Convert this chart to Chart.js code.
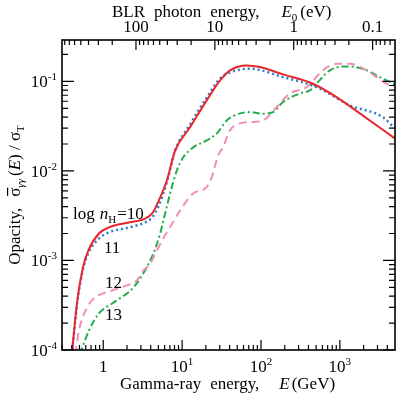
<!DOCTYPE html>
<html>
<head>
<meta charset="utf-8">
<script src="https://cdn.jsdelivr.net/npm/chart.js@4.4.1/dist/chart.umd.min.js"></script>
<style>
    html, body { margin: 0; padding: 0; background: #fff; }
    #wrap { width: 398px; height: 398px; }
</style>
</head>
<body>
<div id="wrap"><canvas id="chart" width="398" height="398"></canvas></div>
<script>
// gamma-ray energy E (GeV) and opacity sigma/sigma_T, one pair per log n_H
var energy10  = [0.40, 0.469, 0.553, 0.646, 0.882, 1.18, 2.12, 3.40, 4.17, 5.07, 6.40, 8.15, 12.6, 20.5, 30.3, 40.5, 65.9, 97.1, 190, 455, 908, 1791, 4968];
var opacity10 = [9e-5, 3.57e-4, 8.36e-4, 1.29e-3, 2.0e-3, 2.34e-3, 2.66e-3, 2.94e-3, 3.35e-3, 4.68e-3, 7.83e-3, 0.0169, 0.0308, 0.0614, 0.1026, 0.133, 0.151, 0.1445, 0.1197, 0.0942, 0.0668, 0.0439, 0.0231];

var energy11  = [0.40, 0.469, 0.553, 0.646, 0.882, 1.18, 2.12, 3.40, 4.17, 5.07, 6.40, 8.15, 12.6, 20.5, 30.3, 40.5, 72.6, 190, 507, 1339, 3500, 4968];
var opacity11 = [9e-5, 3.40e-4, 7.92e-4, 1.20e-3, 1.76e-3, 2.06e-3, 2.34e-3, 2.66e-3, 3.02e-3, 4.12e-3, 7.45e-3, 0.0169, 0.0331, 0.0662, 0.108, 0.126, 0.1387, 0.1117, 0.0863, 0.054, 0.0399, 0.0299];

var energy12  = [0.445, 0.492, 0.627, 0.799, 1.30, 2.0, 2.67, 3.24, 3.94, 4.78, 5.75, 7.05, 9.43, 13.8, 20.5, 23.8, 28.6, 33.0, 40.5, 54.2, 72.6, 106, 158, 233, 379, 609, 908, 1339, 2178, 2915, 3900, 4968];
var opacity12 = [9e-5, 1.65e-4, 3.01e-4, 3.89e-4, 4.62e-4, 5.26e-4, 5.98e-4, 7.73e-4, 9.25e-4, 1.29e-3, 1.76e-3, 2.36e-3, 3.62e-3, 5.61e-3, 6.59e-3, 8.53e-3, 0.0149, 0.0184, 0.0284, 0.034, 0.0351, 0.0366, 0.0517, 0.0734, 0.0863, 0.133, 0.157, 0.157, 0.133, 0.1117, 0.095, 0.0902];

var energy13  = [0.505, 0.659, 0.882, 1.30, 1.84, 2.42, 3.57, 4.33, 5.27, 5.80, 7.05, 8.57, 10.4, 13.9, 20.5, 27.5, 36.8, 54.2, 72.6, 106, 142, 190, 312, 417, 507, 747, 1216, 1955, 3208, 4968];
var opacity13 = [9e-5, 1.65e-4, 2.56e-4, 3.31e-4, 4.06e-4, 4.99e-4, 8.41e-4, 1.20e-3, 2.0e-3, 2.80e-3, 5.61e-3, 0.0101, 0.0143, 0.0184, 0.0219, 0.0262, 0.0366, 0.0439, 0.0454, 0.0436, 0.0454, 0.0588, 0.0734, 0.0793, 0.095, 0.133, 0.147, 0.1387, 0.1117, 0.0926];

// axis ranges and labelled ticks
var energyMin = 0.3, energyMax = 5000;
var opacityMin = 1e-4, opacityMax = 0.29;
var bottomTicks = [1, 10, 100, 1000];
var bottomExponents = ['', '1', '2', '3'];
var leftTicks = [1e-4, 1e-3, 1e-2, 1e-1];
var leftExponents = ['-4', '-3', '-2', '-1'];
var topTicks = [100, 10, 1, 0.1];
var topLabels = ['100', '10', '1', '0.1'];
// E * E0 at pair-production threshold, GeV * eV
var thresholdProduct = 260;

var serif = '"Liberation Serif", "DejaVu Serif", serif';

function points(xs, ys)
{
    return xs.map(function(x, i) { return {x: x, y: ys[i]}; });
}

function drawPieces(ctx, pieces, x, y)
{
    pieces.forEach(function(p)
    {
        ctx.font = p.font;
        ctx.fillText(p.text, x, y + (p.dy || 0));
        var w = ctx.measureText(p.text).width;
        if(p.bar)
        {
            ctx.fillRect(x + 1, y - 13, w - 1, 1.2);
        }
        x += w + (p.gap || 0);
    });
}

function piecesWidth(ctx, pieces)
{
    var w = 0;
    pieces.forEach(function(p)
    {
        ctx.font = p.font;
        w += ctx.measureText(p.text).width + (p.gap || 0);
    });
    return w;
}

var framePlugin = {
    id: 'frame',
    afterDraw: function(chart)
    {
        var ctx = chart.ctx;
        var a = chart.chartArea;
        var xs = chart.scales.x;
        var ys = chart.scales.y;

        ctx.save();
        ctx.strokeStyle = '#000';
        ctx.fillStyle = '#000';
        ctx.lineWidth = 1.6;
        ctx.strokeRect(a.left, a.top, a.right - a.left, a.bottom - a.top);

        ctx.lineWidth = 1.2;
        ctx.beginPath();
        var d, m, v, p, len;
        // bottom, gamma-ray energy
        for(d = -1; d <= 3; ++d)
        {
            for(m = 1; m <= 9; ++m)
            {
                v = m * Math.pow(10, d);
                if(v <= energyMin || v >= energyMax) continue;
                p = xs.getPixelForValue(v);
                len = m == 1 ? 10 : 5;
                ctx.moveTo(p, a.bottom);
                ctx.lineTo(p, a.bottom - len);
            }
        }
        // top, BLR photon energy
        for(d = -2; d <= 2; ++d)
        {
            for(m = 1; m <= 9; ++m)
            {
                v = thresholdProduct / (m * Math.pow(10, d));
                if(v <= energyMin || v >= energyMax) continue;
                p = xs.getPixelForValue(v);
                len = m == 1 ? 10 : 5;
                ctx.moveTo(p, a.top);
                ctx.lineTo(p, a.top + len);
            }
        }
        // left and right, opacity
        for(d = -4; d <= -1; ++d)
        {
            for(m = 1; m <= 9; ++m)
            {
                v = m * Math.pow(10, d);
                if(v < opacityMin || v >= opacityMax) continue;
                p = ys.getPixelForValue(v);
                len = m == 1 ? 12 : 6;
                ctx.moveTo(a.left, p);
                ctx.lineTo(a.left + len, p);
                ctx.moveTo(a.right, p);
                ctx.lineTo(a.right - len, p);
            }
        }
        ctx.stroke();

        var big = '17px ' + serif;
        var small = '11px ' + serif;
        var italic = 'italic 17px ' + serif;
        ctx.textBaseline = 'alphabetic';
        ctx.textAlign = 'left';

        // left tick labels
        leftTicks.forEach(function(v, i)
        {
            var py = ys.getPixelForValue(v);
            var pieces = [{text: '10', font: big}, {text: leftExponents[i], font: small, dy: -7}];
            drawPieces(ctx, pieces, a.left - 5 - piecesWidth(ctx, pieces), py + 6);
        });

        // bottom tick labels
        bottomTicks.forEach(function(v, i)
        {
            var px = xs.getPixelForValue(v);
            var pieces = [{text: v == 1 ? '1' : '10', font: big}];
            if(bottomExponents[i]) pieces.push({text: bottomExponents[i], font: small, dy: -7});
            drawPieces(ctx, pieces, px - piecesWidth(ctx, pieces) / 2, a.bottom + 22);
        });

        // top tick labels
        ctx.textAlign = 'center';
        ctx.font = big;
        topTicks.forEach(function(v, i)
        {
            ctx.fillText(topLabels[i], xs.getPixelForValue(thresholdProduct / v), a.top - 8);
        });
        ctx.textAlign = 'left';

        // axis titles
        drawPieces(ctx, [
            {text: 'BLR', font: big, gap: 9},
            {text: 'photon', font: big, gap: 9},
            {text: 'energy,', font: big, gap: 22},
            {text: 'E', font: italic},
            {text: '0', font: small, dy: 4, gap: 3},
            {text: '(eV)', font: big}
        ], 112, 17);

        drawPieces(ctx, [
            {text: 'Gamma-ray', font: big, gap: 9},
            {text: 'energy,', font: big, gap: 20},
            {text: 'E', font: italic, gap: 2},
            {text: '(GeV)', font: big}
        ], 120, 389);

        var ytitle = [
            {text: 'Opacity,', font: big, gap: 11},
            {text: '\u03c3', font: big, bar: true},
            {text: '\u03b3\u03b3', font: 'italic 11px ' + serif, dy: 4, gap: 3},
            {text: '(', font: big},
            {text: 'E', font: italic},
            {text: ') / \u03c3', font: big},
            {text: 'T', font: small, dy: 4}
        ];
        ctx.save();
        ctx.translate(20, (a.top + a.bottom) / 2);
        ctx.rotate(-Math.PI / 2);
        drawPieces(ctx, ytitle, -piecesWidth(ctx, ytitle) / 2, 0);
        ctx.restore();

        // curve labels
        drawPieces(ctx, [
            {text: 'log', font: big, gap: 5},
            {text: 'n', font: italic},
            {text: 'H', font: small, dy: 4, gap: 1},
            {text: '=10', font: big}
        ], 73, 219);
        ctx.font = big;
        ctx.fillText('11', 104, 253);
        ctx.fillText('12', 105, 288);
        ctx.fillText('13', 105, 320);

        ctx.restore();
    }
};

new Chart(document.getElementById('chart').getContext('2d'), {
    type: 'line',
    data: {
        datasets: [
            {
                label: 'log nH=10',
                data: points(energy10, opacity10),
                borderColor: '#e8262d',
                borderWidth: 2
            },
            {
                label: 'log nH=11',
                data: points(energy11, opacity11),
                borderColor: '#2a78c8',
                borderWidth: 2.4,
                borderDash: [2, 3]
            },
            {
                label: 'log nH=12',
                data: points(energy12, opacity12),
                borderColor: '#f28db4',
                borderWidth: 2,
                borderDash: [8, 5]
            },
            {
                label: 'log nH=13',
                data: points(energy13, opacity13),
                borderColor: '#1fae4b',
                borderWidth: 2,
                borderDash: [7, 3, 2, 3]
            }
        ]
    },
    options: {
        responsive: false,
        animation: false,
        layout: {padding: {left: 62, top: 40, right: 3, bottom: 48}},
        elements: {
            point: {radius: 0},
            line: {cubicInterpolationMode: 'monotone', fill: false}
        },
        scales: {
            x: {type: 'logarithmic', min: energyMin, max: energyMax, display: false},
            y: {type: 'logarithmic', min: opacityMin, max: opacityMax, display: false}
        },
        plugins: {
            legend: {display: false},
            tooltip: {enabled: false}
        }
    },
    plugins: [framePlugin]
});
</script>
</body>
</html>
